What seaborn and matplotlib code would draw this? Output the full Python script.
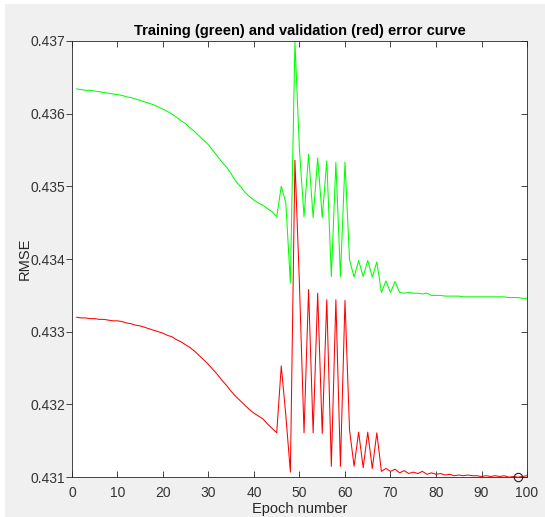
import matplotlib
matplotlib.use("Agg")
import matplotlib.pyplot as plt
import matplotlib.lines as mlines
import numpy as np
import pandas as pd
import seaborn as sns

# epochs 1..100
epochs = list(range(1, 101))

train_rmse = [
    0.43634, 0.43633, 0.43632, 0.43632, 0.43631, 0.43630, 0.43629, 0.43628, 0.43627, 0.43626,
    0.43625, 0.43623, 0.43622, 0.43620, 0.43618, 0.43616, 0.43614, 0.43612, 0.43609, 0.43606,
    0.43603, 0.43599, 0.43595, 0.43590, 0.43586, 0.43580, 0.43575, 0.43569, 0.43563, 0.43557,
    0.43549, 0.43541, 0.43533, 0.43526, 0.43517, 0.43507, 0.43500, 0.43492, 0.43486, 0.43481,
    0.43477, 0.43474, 0.43469, 0.43465, 0.43458, 0.43500, 0.43477, 0.43367, 0.43699, 0.43550,
    0.43458, 0.43544, 0.43457, 0.43539, 0.43457, 0.43535, 0.43376, 0.43533, 0.43376, 0.43533,
    0.43399, 0.43375, 0.43398, 0.43376, 0.43398, 0.43375, 0.43396, 0.43354, 0.43370, 0.43354,
    0.43369, 0.43354, 0.43353, 0.43354, 0.43353, 0.43353, 0.43352, 0.43353, 0.43350, 0.43350,
    0.43350, 0.43349, 0.43349, 0.43349, 0.43349, 0.43348, 0.43348, 0.43348, 0.43348, 0.43348,
    0.43348, 0.43348, 0.43348, 0.43348, 0.43348, 0.43347, 0.43347, 0.43347, 0.43346, 0.43346,
]

valid_rmse = [
    0.43320, 0.43319, 0.43319, 0.43318, 0.43318, 0.43317, 0.43317, 0.43316, 0.43315, 0.43315,
    0.43314, 0.43312, 0.43311, 0.43309, 0.43308, 0.43306, 0.43304, 0.43302, 0.43300, 0.43298,
    0.43295, 0.43293, 0.43289, 0.43286, 0.43282, 0.43278, 0.43273, 0.43267, 0.43261, 0.43255,
    0.43248, 0.43241, 0.43233, 0.43226, 0.43218, 0.43211, 0.43205, 0.43199, 0.43193, 0.43188,
    0.43184, 0.43180, 0.43173, 0.43167, 0.43161, 0.43253, 0.43185, 0.43107, 0.43536, 0.43364,
    0.43161, 0.43358, 0.43161, 0.43353, 0.43160, 0.43344, 0.43115, 0.43344, 0.43115, 0.43343,
    0.43165, 0.43115, 0.43162, 0.43113, 0.43162, 0.43112, 0.43161, 0.43108, 0.43112, 0.43108,
    0.43111, 0.43106, 0.43109, 0.43105, 0.43107, 0.43105, 0.43108, 0.43104, 0.43106, 0.43104,
    0.43105, 0.43103, 0.43104, 0.43102, 0.43103, 0.43102, 0.43103, 0.43102, 0.43102, 0.43101,
    0.43102, 0.43101, 0.43102, 0.43101, 0.43102, 0.43100, 0.43101, 0.43100, 0.43101, 0.43102,
]

best_epoch = 98
best_value = 0.43100

x_ticks = list(range(0, 101, 10))
y_ticks = [0.431, 0.432, 0.433, 0.434, 0.435, 0.436, 0.437]

df = pd.DataFrame({
    "epoch": epochs * 2,
    "rmse": train_rmse + valid_rmse,
    "set": ["train"] * len(epochs) + ["valid"] * len(epochs),
})

sns.set_style("ticks")
plt.rcParams["font.family"] = ["Liberation Sans", "DejaVu Sans"]

fig = plt.figure(figsize=(5.45, 5.17), dpi=100, facecolor="white")
# grey window area, thin white strip on top and left
fig.patches.append(plt.Rectangle((5 / 545, 0), 1, 1 - 4 / 517, transform=fig.transFigure,
                                 facecolor="#f0f0f0", edgecolor="none", zorder=-10))
ax = fig.add_axes([0.132, 0.077, 0.835, 0.844])
ax.set_facecolor("white")

sns.lineplot(data=df, x="epoch", y="rmse", hue="set",
             palette={"train": "#00ff00", "valid": "#ff0000"},
             linewidth=0.75, legend=False, ax=ax)
ax.plot([best_epoch], [best_value], marker="o", markersize=6,
        markerfacecolor="none", markeredgecolor="#222222", markeredgewidth=0.8,
        linestyle="none", clip_on=False, zorder=5)

ax.set_xlim(0, 100)
ax.set_ylim(0.431, 0.437)
ax.set_xticks(x_ticks)
ax.set_yticks(y_ticks)
ax.set_yticklabels([f"{v:.3f}" for v in y_ticks])
ax.tick_params(direction="in", length=4, width=0.6, color="#262626",
               labelsize=10, labelcolor="#333333", top=True, right=True)
ax.tick_params(axis="x", pad=6)
ax.tick_params(axis="y", pad=5)
for s in ax.spines.values():
    s.set_color("#262626")
    s.set_linewidth(0.6)

ax.set_xlabel("Epoch number", fontsize=10.5, color="#262626", labelpad=2)
ax.set_ylabel("RMSE", fontsize=10.5, color="#262626", labelpad=-1)
ax.set_title("Training (green) and validation (red) error curve",
             fontsize=10.5, fontweight="bold", color="black", pad=4)

# left y ticks point outward as in the original
for t in ax.yaxis.get_major_ticks():
    t.tick1line.set_marker(mlines.TICKLEFT)

fig.savefig("out.png", dpi=100, facecolor=fig.get_facecolor())
